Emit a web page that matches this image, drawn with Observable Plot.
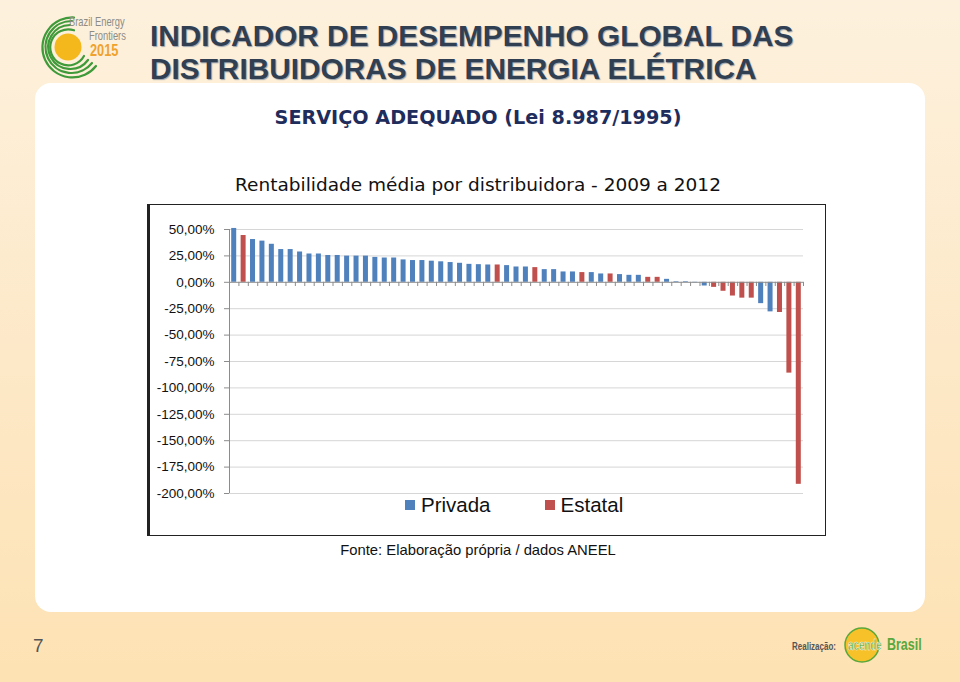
<!DOCTYPE html>
<html>
<head>
<meta charset="utf-8">
<script src="https://cdn.jsdelivr.net/npm/d3@7"></script>
<script src="https://cdn.jsdelivr.net/npm/@observablehq/plot@0.6"></script>
<style>
  body { margin: 0; }
  #page { position: relative; width: 960px; height: 682px; overflow: hidden;
          background: linear-gradient(180deg, #fdf1dd 0%, #fde9c9 50%, #fde2b3 100%);
          font-family: "Liberation Sans", Arial, sans-serif; }
  .abs { position: absolute; white-space: nowrap; }
  #panel { left: 35px; top: 83px; width: 890px; height: 529px; background: #fff; border-radius: 16px; }
  .title { left: 150px; font-weight: bold; font-size: 29.8px; color: #313f52; text-shadow: 1px 1px 1px #9aa3ad; }
  #box { left: 147px; top: 204px; width: 675px; height: 330px; border: 1.5px solid #222; border-left-width: 3px; background: #fff; }
  #chart { left: 148px; top: 205px; }
</style>
</head>
<body>
<div id="page">
  <svg class="abs" style="left:0;top:0" width="150" height="82">
    <g fill="none" stroke="#3f9a3a" stroke-width="2.2" stroke-linecap="round">
      <path d="M 74 30.3 A 18 18 0 1 0 84 56"/>
      <path d="M 70 25 A 22 22 0 1 0 88 60"/>
      <path d="M 72 21 A 26 26 0 1 0 92 63"/>
      <path d="M 74 17.5 A 30 30 0 1 0 96 66"/>
    </g>
    <circle cx="68" cy="47" r="13.5" fill="#f4b81c"/>
    <text transform="translate(69,26) scale(0.72,1)" font-size="13" fill="#8c8c86" font-family="Liberation Sans, Arial">Brazil Energy</text>
    <text transform="translate(89,40) scale(0.72,1)" font-size="13" fill="#8c8c86" font-family="Liberation Sans, Arial">Frontiers</text>
    <text transform="translate(90,56) scale(0.8,1)" font-size="16" font-weight="bold" fill="#f0a22e" font-family="Liberation Sans, Arial">2015</text>
  </svg>
  <div class="abs title" style="top:19px">INDICADOR DE DESEMPENHO GLOBAL DAS</div>
  <div class="abs title" style="top:52px">DISTRIBUIDORAS DE ENERGIA ELÉTRICA</div>
  <div id="panel" class="abs"></div>
  <div class="abs" style="left:178px;width:600px;top:106px;text-align:center;font-family:'DejaVu Sans',Verdana,sans-serif;font-weight:bold;font-size:19.2px;color:#1e2d5c">SERVIÇO ADEQUADO (Lei 8.987/1995)</div>
  <div class="abs" style="left:128px;width:700px;top:174px;text-align:center;font-family:'DejaVu Sans',Verdana,sans-serif;font-size:18.5px;color:#111">Rentabilidade média por distribuidora - 2009 a 2012</div>
  <div id="box" class="abs"></div>
  <div id="chart" class="abs"></div>
  <div id="legend" class="abs" style="left:405px;top:493px;font-size:20.5px;color:#111;display:flex;gap:0"></div>
  <div class="abs" style="left:178px;width:600px;top:542px;text-align:center;font-size:14.8px;color:#111">Fonte: Elaboração própria / dados ANEEL</div>
  <div class="abs" style="left:33px;top:635px;font-size:19px;color:#555">7</div>
  <svg class="abs" style="left:786px;top:624px" width="150" height="44">
    <text transform="translate(6,26) scale(0.8,1)" font-size="10" font-weight="bold" fill="#555" font-family="Liberation Sans, Arial">Realização:</text>
    <circle cx="76" cy="21" r="17" fill="#f7c12a" stroke="#5aa83c" stroke-width="1.5"/>
    <text transform="translate(62,26) scale(0.7,1)" font-size="14" font-weight="bold" fill="#5aa83c" stroke="#fff" stroke-width="0.5" font-family="Liberation Sans, Arial">acende</text>
    <text transform="translate(101,26) scale(0.78,1)" font-size="16" font-weight="bold" fill="#5aa83c" font-family="Liberation Sans, Arial">Brasil</text>
  </svg>
</div>
<script>
// Rentabilidade média (%) por distribuidora, ordenada (2009-2012)
const valores = [51, 44.3, 40.5, 39, 36, 31, 31, 28.7, 26.8, 26.8,
  25.4, 25.4, 24.8, 24.8, 24.8, 23.6, 23, 23, 21.2, 20.6,
  20.6, 20, 19.4, 18.7, 18, 17, 16.7, 16.4, 16.4, 15.8,
  14.5, 14.5, 13.9, 12, 12, 9.8, 9.8, 9.2, 9.2, 7.9,
  7.9, 7.3, 6.6, 6.6, 4.7, 4.7, 2.8, 0.6, 0.6, -0.5,
  -3.5, -4.8, -8.5, -13, -15, -15, -20.2, -28, -28.6, -86,
  -191.3];
const tipos = ["Privada", "Estatal", "Privada", "Privada", "Privada", "Privada", "Privada", "Privada", "Privada", "Privada",
  "Privada", "Privada", "Privada", "Privada", "Privada", "Privada", "Privada", "Privada", "Privada", "Privada",
  "Privada", "Privada", "Privada", "Privada", "Privada", "Privada", "Privada", "Privada", "Estatal", "Privada",
  "Privada", "Privada", "Estatal", "Privada", "Privada", "Privada", "Privada", "Estatal", "Privada", "Privada",
  "Estatal", "Privada", "Privada", "Privada", "Estatal", "Estatal", "Privada", "Privada", "Privada", "Privada",
  "Privada", "Estatal", "Estatal", "Estatal", "Estatal", "Estatal", "Privada", "Privada", "Estatal", "Estatal",
  "Estatal"];
const categorias = ["Privada", "Estatal"];
const cores = ["#4f81bd", "#c0504d"];
const yTicks = [50, 25, 0, -25, -50, -75, -100, -125, -150, -175, -200];

const data = valores.map((v, i) => ({pos: i, v, tipo: tipos[i]}));
const fmt = d => d.toFixed(2).replace(".", ",") + "%";

const chart = Plot.plot({
  width: 676, height: 298,
  marginLeft: 81, marginRight: 21, marginTop: 24, marginBottom: 10,
  x: {domain: [0, valores.length], axis: null},
  y: {domain: [-200, 50], axis: null},
  color: {domain: categorias, range: cores},
  style: {fontFamily: "Liberation Sans, Arial, sans-serif", fontSize: "13px", color: "#111", background: "transparent"},
  marks: [
    Plot.ruleY(yTicks.filter(t => t !== 0), {stroke: "#d6d6d6", strokeWidth: 1, strokeOpacity: 1}),
    Plot.axisY({ticks: yTicks, tickFormat: fmt, tickSize: 5, tickPadding: 10, stroke: "#8c8c8c", fontSize: 13.5, label: null}),
    Plot.ruleX([0], {stroke: "#8c8c8c"}),
    Plot.rect(data, {x1: "pos", x2: d => d.pos + 1, y1: 0, y2: "v", fill: "tipo", insetLeft: 2.2, insetRight: 2.2}),
    Plot.ruleY([0], {stroke: "#8c8c8c"}),
    Plot.ruleX(d3.range(1, valores.length + 1), {y1: 0, y2: -4, stroke: "#8c8c8c"})
  ]
});
document.getElementById("chart").appendChild(chart);

const legend = document.getElementById("legend");
categorias.forEach((c, i) => {
  const item = document.createElement("div");
  item.style.cssText = "display:flex;align-items:center;margin-right:" + (i === 0 ? "54px" : "0");
  item.innerHTML = `<span style="display:inline-block;width:10px;height:10px;background:${cores[i]};margin-right:6px"></span><span>${c}</span>`;
  legend.appendChild(item);
});
</script>
</body>
</html>
